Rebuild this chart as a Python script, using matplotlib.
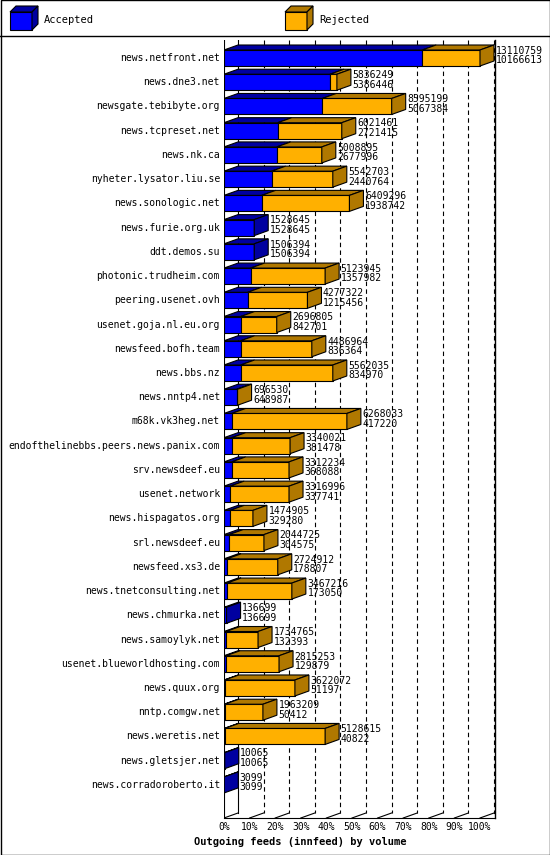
import matplotlib
matplotlib.use("Agg")
import matplotlib.pyplot as plt
from matplotlib.patches import Polygon, Rectangle

names = ["news.netfront.net","news.dne3.net","newsgate.tebibyte.org","news.tcpreset.net","news.nk.ca",
 "nyheter.lysator.liu.se","news.sonologic.net","news.furie.org.uk","ddt.demos.su","photonic.trudheim.com",
 "peering.usenet.ovh","usenet.goja.nl.eu.org","newsfeed.bofh.team","news.bbs.nz","news.nntp4.net",
 "m68k.vk3heg.net","endofthelinebbs.peers.news.panix.com","srv.newsdeef.eu","usenet.network",
 "news.hispagatos.org","srl.newsdeef.eu","newsfeed.xs3.de","news.tnetconsulting.net","news.chmurka.net",
 "news.samoylyk.net","usenet.blueworldhosting.com","news.quux.org","nntp.comgw.net","news.weretis.net",
 "news.gletsjer.net","news.corradoroberto.it"]
offered = [13110759,5836249,8595199,6021461,5008895,5542703,6409296,1528645,1506394,5123945,4277322,
 2696805,4486964,5562035,696530,6268033,3340021,3312234,3316996,1474905,2044725,2724912,3467216,136699,
 1734765,2815253,3622072,1963209,5128615,10065,3099]
accepted = [10166613,5386446,5067384,2721415,2677996,2440764,1938742,1528645,1506394,1357982,1215456,
 842701,836364,834970,648987,417220,381478,368088,337741,329280,304575,178807,173050,136699,132393,
 129879,51197,50412,40822,10065,3099]
# volume shares (% of largest)
acc_pct = [77.4,41.4,38.4,21.0,20.6,18.6,14.7,11.8,11.8,10.4,9.2,6.5,6.5,6.5,5.0,3.0,3.0,3.0,2.4,2.4,
 2.0,1.2,1.2,1.0,0.8,0.8,0.3,0.3,0.3,0.3,0.1]
tot_pct = [100,44.1,65.5,46.0,38.2,42.5,49.0,11.8,11.8,39.5,32.6,20.6,34.3,42.5,5.3,48.0,25.8,25.4,25.4,
 11.3,15.6,21.0,26.5,1.0,13.3,21.5,27.7,15.2,39.5,0.3,0.1]
ticks = list(range(0, 101, 10))

W, H = 550, 855
fig = plt.figure(figsize=(5.5, 8.55), dpi=100)
bg = fig.add_axes([0, 0, 1, 1])
bg.set_xlim(0, W); bg.set_ylim(H, 0); bg.axis("off")
bg.add_patch(Rectangle((0.5, 0.5), W - 1, H - 1, fill=False, ec="black", lw=1))
bg.plot([0, W], [36, 36], color="black", lw=1)
FONT = "DejaVu Sans Mono"

def cube(ax, x0, y0, w, h, d, dy, front, dark):
    ax.add_patch(Rectangle((x0, y0), w, h, fc=front, ec="black", lw=0.8))
    ax.add_patch(Polygon([(x0, y0), (x0 + w, y0), (x0 + w + d, y0 - dy), (x0 + d, y0 - dy)], fc=dark, ec="black", lw=0.8))
    ax.add_patch(Polygon([(x0 + w, y0), (x0 + w, y0 + h), (x0 + w + d, y0 + h - dy), (x0 + w + d, y0 - dy)], fc=dark, ec="black", lw=0.8))

cube(bg, 10, 12, 22, 18, 6, 6, "#0000ff", "#0000a0")
bg.text(44, 20, "Accepted", fontsize=7.5, family=FONT, va="center")
cube(bg, 285, 12, 22, 18, 6, 6, "#ffb000", "#b07800")
bg.text(319, 20, "Rejected", fontsize=7.5, family=FONT, va="center")

# main axes: 0% at px 224, 100% at px 480; right edge px 495
x_px0, x_px1 = 224, 495
pxu = 2.56
y_top, y_bot = 40, 818
row0, rstep = 58, 24.23
ax = fig.add_axes([x_px0 / W, 1 - y_bot / H, (x_px1 - x_px0) / W, (y_bot - y_top) / H])
ax.set_xlim(0, (x_px1 - x_px0) / pxu)
ax.set_ylim((y_bot - row0) / rstep, (y_top - row0) / rstep)
ax.axis("off"); ax.patch.set_alpha(0)
dx = 14 / pxu
dy = 5 / rstep
bh = 16 / rstep
floor_front = (y_bot - row0) / rstep
floor_back = floor_front - dy
top = (y_top - row0) / rstep

for t in ticks:
    ax.plot([t + dx, t + dx], [top, floor_back], color="black", lw=0.8,
            ls="-" if t == 0 else (0, (4, 3)), zorder=1)
    ax.plot([t, t + dx], [floor_front, floor_back], color="black", lw=0.8, zorder=1)
    ax.text(t, floor_front + 0.18, f"{t}%", ha="center", va="top", fontsize=7, family=FONT, clip_on=False)
ax.plot([0, 0], [top, floor_front], color="black", lw=0.8)
ax.plot([0, ax.get_xlim()[1]], [floor_front, floor_front], color="black", lw=0.8, clip_on=False)
ax.plot([100 + dx, ax.get_xlim()[1]], [floor_back, floor_back], color="black", lw=0.8)
ax.plot([ax.get_xlim()[1]] * 2, [top, floor_front], color="black", lw=1, clip_on=False)

for i, n in enumerate(names):
    y0 = i - bh / 2
    a, t = acc_pct[i], tot_pct[i]
    segs = [(0, a, "#0000ff", "#0000a0")]
    if t > a:
        segs.append((a, t, "#ffb000", "#b07800"))
    for j, (s, e, fc, dc) in enumerate(segs):
        ax.add_patch(Rectangle((s, y0), e - s, bh, fc=fc, ec="black", lw=0.8, zorder=3))
        ax.add_patch(Polygon([(s, y0), (e, y0), (e + dx, y0 - dy), (s + dx, y0 - dy)], fc=dc, ec="black", lw=0.8, zorder=3))
        if j == len(segs) - 1:
            ax.add_patch(Polygon([(e, y0), (e, y0 + bh), (e + dx, y0 + bh - dy), (e + dx, y0 - dy)], fc=dc, ec="black", lw=0.8, zorder=3))
    ax.text(t + dx + 0.6, i - 0.1, f"{offered[i]}\n{accepted[i]}", fontsize=7, family=FONT,
            va="center", ha="left", linespacing=0.95, zorder=4, clip_on=False)
    ax.text(-1.6, i, n, fontsize=7, family=FONT, va="center", ha="right", clip_on=False)

bg.text(300, 842, "Outgoing feeds (innfeed) by volume", fontsize=7.5, family=FONT,
        weight="bold", ha="center", va="center")
fig.savefig("out.png", dpi=100)
